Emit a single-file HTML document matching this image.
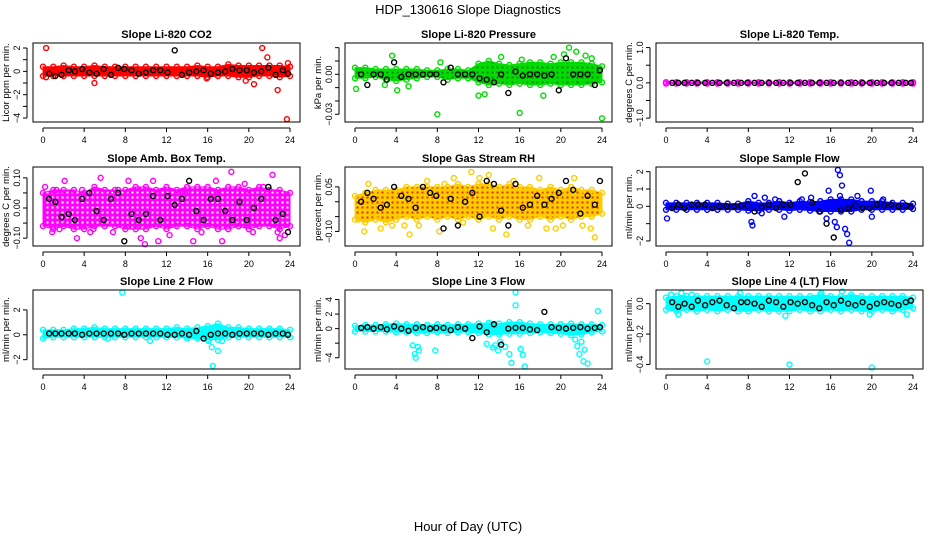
<!DOCTYPE html>
<html><head><meta charset="utf-8"><style>
html,body{margin:0;padding:0;background:#fff;}
svg{display:block;font-family:"Liberation Sans",sans-serif;}
</style></head><body>
<svg id="chart" width="936" height="540" viewBox="0 0 936 540">
<defs id="defs"></defs>
<text x="468" y="14" text-anchor="middle" font-size="13">HDP_130616  Slope Diagnostics</text>
<text x="468" y="531" text-anchor="middle" font-size="13">Hour of Day (UTC)</text>
</svg>
<script>
const xTicks = [0,4,8,12,16,20,24];
const bandHours = [0,1,2,3,4,5,6,7,8,9,10,11,12,13,14,15,16,17,18,19,20,21,22,23,24];
const blackHours = [0.6,1.2,1.8,2.5,3.1,3.8,4.5,5.2,5.9,6.6,7.3,7.9,8.6,9.3,10,10.7,11.4,12.1,12.8,13.5,14.2,14.9,15.6,16.3,17,17.7,18.4,19.1,19.8,20.5,21.2,21.9,22.6,23.3,23.8];

// CO2
const co2Lo = [-0.4,-0.4,-0.4,-0.4,-0.4,-0.4,-0.4,-0.4,-0.4,-0.4,-0.4,-0.4,-0.4,-0.4,-0.4,-0.4,-0.5,-0.4,-0.4,-0.5,-0.5,-0.4,-0.4,-0.5,-0.4];
const co2Hi = [0.4,0.4,0.5,0.4,0.4,0.5,0.4,0.4,0.4,0.4,0.4,0.4,0.4,0.4,0.4,0.5,0.4,0.4,0.6,0.5,0.5,0.5,0.5,0.5,0.4];
const co2OutH = [0.3,0.3,5,15.9,20.5,19.7,21.3,21.8,22.8,23.7,23.8];
const co2OutV = [2,-0.5,-1,-0.6,-1.1,-0.8,2,1.2,-1.6,-4.1,0.7];
const co2Black = [-0.2,-0.4,-0.3,0.1,0,0.2,-0.1,-0.2,0.2,-0.3,0.3,0.2,0.1,-0.2,-0.1,0.1,0.1,-0.1,1.8,-0.3,-0.1,0,0.1,-0.2,-0.1,0,0.2,0.1,0.1,-0.1,0,0.3,-0.3,0.1,-0.2];
// Pressure
const presLo = [-0.003,-0.003,-0.002,-0.004,-0.005,-0.004,-0.003,-0.002,-0.002,-0.004,-0.003,-0.003,-0.006,-0.008,-0.007,-0.008,-0.007,-0.008,-0.008,-0.007,-0.008,-0.008,-0.008,-0.007,-0.006];
const presHi = [0.005,0.005,0.004,0.004,0.004,0.004,0.004,0.003,0.003,0.004,0.004,0.003,0.008,0.01,0.008,0.007,0.008,0.009,0.009,0.008,0.009,0.009,0.009,0.008,0.006];
const presOutH = [0.1,3.6,4.1,8,8.3,12,12.6,16,18.3,20.8,21.5,24,14.2,19.3,20.3,16.2,22.4,23,2.9,5.2];
const presOutV = [-0.011,0.014,-0.012,-0.03,0.009,-0.016,-0.015,-0.029,-0.016,0.02,0.017,-0.033,0.013,0.013,0.015,0.011,0.014,0.012,-0.008,-0.009];
const presBlack = [0,-0.008,0,0,-0.004,0.009,-0.002,0,0,0,0,0,-0.006,0.005,0,0,0,-0.003,-0.004,-0.006,0,-0.014,0.002,-0.001,0,0,-0.001,0,-0.012,0.012,0,0,0,-0.008,0.003];
// Temp
const tempLo = [-0.02,-0.02,-0.02,-0.02,-0.02,-0.02,-0.02,-0.02,-0.02,-0.02,-0.02,-0.02,-0.02,-0.02,-0.02,-0.02,-0.02,-0.02,-0.02,-0.02,-0.02,-0.02,-0.02,-0.02,-0.02];
const tempHi = [0.02,0.02,0.02,0.02,0.02,0.02,0.02,0.02,0.02,0.02,0.02,0.02,0.02,0.02,0.02,0.02,0.02,0.02,0.02,0.02,0.02,0.02,0.02,0.02,0.02];
const tempOutH = [];
const tempOutV = [];
const tempBlack = [0,0,0,0,0,0,0,0,0,0,0,0,0,0,0,0,0,0,0,0,0,0,0,0,0,0,0,0,0,0,0,0,0,0,0];
// Amb box temp
const ambLo = [-0.06,-0.07,-0.06,-0.07,-0.07,-0.06,-0.06,-0.06,-0.07,-0.07,-0.07,-0.06,-0.07,-0.06,-0.06,-0.07,-0.06,-0.07,-0.07,-0.06,-0.07,-0.06,-0.06,-0.07,-0.06];
const ambHi = [0.05,0.06,0.06,0.06,0.05,0.07,0.06,0.06,0.06,0.07,0.07,0.06,0.07,0.06,0.07,0.07,0.07,0.06,0.07,0.07,0.06,0.07,0.06,0.06,0.05];
const ambOutH = [0.2,0.9,1.3,2.1,3.3,3.8,4.6,5.6,6.8,7.3,8.3,9.5,9.9,10.1,10.7,12.3,13.8,14.6,15.4,17.4,18.3,19.6,20.4,21.4,22.3,23,23.5,1.6,4.9,11.2,16.8,22.8];
const ambOutV = [0.07,-0.08,0.06,0.09,-0.1,0.06,-0.08,0.1,-0.08,0.06,0.09,-0.1,-0.12,0.05,0.09,-0.09,0.05,-0.11,-0.08,-0.11,0.12,0.08,-0.08,0.07,0.11,-0.1,-0.09,-0.07,-0.07,-0.11,0.09,-0.08];
const ambBlack = [0.03,0.02,-0.03,-0.02,-0.04,0.03,0.05,-0.01,-0.04,0.03,0.05,-0.11,-0.02,-0.04,-0.02,0.04,-0.04,0.04,0.01,0.03,0.09,-0.01,-0.04,0.03,0.03,-0.01,-0.04,0.02,-0.04,0,0.03,0.07,-0.04,-0.02,-0.08];
// RH
const rhLo = [-0.06,-0.07,-0.06,-0.07,-0.06,-0.05,-0.06,-0.05,-0.06,-0.05,-0.06,-0.05,-0.06,-0.05,-0.06,-0.05,-0.06,-0.06,-0.05,-0.06,-0.05,-0.06,-0.05,-0.05,-0.04];
const rhHi = [0.02,0.03,0.04,0.04,0.04,0.05,0.05,0.05,0.05,0.05,0.06,0.05,0.06,0.06,0.05,0.06,0.05,0.05,0.04,0.05,0.04,0.05,0.04,0.04,0.03];
const rhOutH = [0.9,1.3,2.5,3.6,4.8,5.3,7,8.2,8.7,9.6,10.5,11.3,12.1,13.4,14.7,15.4,16.8,17.9,18.6,20.2,21.3,22.1,22.9,23.3,0.3,6.2,13,19.5];
const rhOutV = [-0.1,0.06,-0.09,-0.08,-0.08,-0.11,0.07,-0.1,0.06,0.08,-0.07,0.1,0.08,-0.09,-0.11,0.07,-0.08,0.08,-0.09,-0.08,0.08,-0.08,-0.09,-0.12,-0.06,-0.08,0.09,-0.09];
const rhBlack = [0,0.03,0.01,-0.02,-0.01,0.05,0.02,0.01,-0.02,0.05,0.03,0.02,-0.09,0.01,-0.08,0,0.03,-0.05,0.07,0.06,-0.03,-0.08,0.06,-0.02,-0.01,0.02,-0.01,0.01,0.03,0.07,0.04,-0.04,0.02,-0.01,0.07];
// Sample flow
const sfLo = [-0.2,-0.2,-0.2,-0.2,-0.2,-0.2,-0.2,-0.2,-0.25,-0.25,-0.2,-0.2,-0.25,-0.2,-0.25,-0.3,-0.3,-0.3,-0.3,-0.2,-0.2,-0.2,-0.2,-0.2,-0.15];
const sfHi = [0.2,0.2,0.2,0.2,0.2,0.2,0.15,0.15,0.3,0.2,0.2,0.3,0.2,0.3,0.25,0.3,0.4,0.4,0.4,0.3,0.3,0.3,0.2,0.2,0.15];
const sfOutH = [0.1,8.3,8.4,8.6,9.3,9.6,10.6,11.5,13.2,14.1,15.6,15.8,16.6,16.7,16.9,17.1,17.6,17.8,18.6,19.9,20,21.1,17.4,16.4,16.9];
const sfOutV = [-0.7,-0.9,-1.1,0.6,-0.4,0.5,0.4,-0.6,0.4,0.5,-0.7,0.9,-1.2,2.1,1.8,1.2,-1.6,-2.1,0.6,0.9,-0.6,0.4,-1.3,-0.9,0.6];
const sfBlack = [-0.1,0.1,-0.1,0.1,0.1,0.1,-0.1,0,0,0,0.05,0.05,-0.3,-0.05,0.1,-0.1,0.1,0.1,1.4,1.9,0.2,-0.3,-1,-1.8,-0.2,-0.1,0.05,-0.1,-0.1,0.1,0.05,0.1,0,0.05,-0.05];
// Line 2
const l2Lo = [-0.3,-0.2,-0.2,-0.2,-0.2,-0.2,-0.2,-0.2,-0.2,-0.2,-0.2,-0.2,-0.2,-0.2,-0.3,-0.3,-0.4,-0.4,-0.2,-0.2,-0.2,-0.2,-0.2,-0.2,-0.2];
const l2Hi = [0.4,0.4,0.4,0.5,0.5,0.6,0.5,0.5,0.5,0.5,0.5,0.5,0.5,0.6,0.5,0.6,0.7,0.9,0.6,0.6,0.5,0.5,0.5,0.5,0.4];
const l2OutH = [7.7,16.5,16.4,17,16.1,10.4,17.4,6.3];
const l2OutV = [3.4,-2.5,-1,-1.3,-0.5,-0.5,-0.5,-0.3];
const l2Black = [0.1,0.1,0.1,0.1,0.1,0,0.1,0.1,0.1,0.1,0.1,0,0.1,0.1,0.1,0.1,0.1,0,0,0.1,0,0.3,-0.3,0,0.1,0.1,0,0.1,0.1,0.1,0.1,0,0.1,0.1,0];
// Line 3
const l3Lo = [-0.4,-0.4,-0.4,-0.4,-0.5,-0.5,-0.6,-0.6,-0.5,-0.6,-0.5,-0.5,-0.6,-0.8,-0.8,-0.7,-0.7,-0.6,-0.5,-0.6,-0.7,-0.9,-0.8,-0.5,-0.4];
const l3Hi = [0.4,0.5,0.5,0.6,0.7,0.6,0.6,0.5,0.6,0.5,0.6,0.6,0.7,0.8,0.7,0.9,0.9,0.7,0.6,0.6,0.6,0.7,0.6,0.6,0.5];
const l3OutH = [5.6,5.8,5.9,6.1,6.2,7.8,12.8,13.4,13.6,14.1,14.6,15,15.2,15.6,16.1,16.3,16.5,21.4,21.6,21.8,22.2,22.3,22.6,23.6,15.6,22,13.9];
const l3OutV = [-2.3,-3.5,-4,-2.5,-3,-3,-2.1,-2.6,-2.3,-1.8,-2.5,-3.5,-4.7,5,-2.8,-3.6,-5.2,-1.5,-2.4,-3.5,-4.5,-2.9,-4.8,2.4,3.2,-1.8,-3];
const l3Black = [0.1,0.2,0,0.2,-0.1,0.3,0,-0.3,0.1,0.2,0,0.1,0.1,-0.2,0.2,0,-1.3,0.3,-0.5,0.6,-2.2,0,0.1,0.1,-0.1,-0.2,2.3,0.2,0.1,0,0.1,0.2,0,0.1,0.2];
// Line 4
const l4Lo = [-0.04,-0.05,-0.04,-0.05,-0.04,-0.05,-0.04,-0.05,-0.05,-0.04,-0.05,-0.05,-0.05,-0.04,-0.05,-0.05,-0.04,-0.05,-0.04,-0.05,-0.05,-0.04,-0.05,-0.04,-0.03];
const l4Hi = [0.04,0.05,0.05,0.05,0.05,0.05,0.05,0.05,0.05,0.05,0.05,0.05,0.05,0.05,0.05,0.06,0.05,0.05,0.06,0.05,0.05,0.05,0.05,0.05,0.04];
const l4OutH = [4,12,20,0.5,1.2,2.5,7.2,11.6,15.1,19.8,23.4,1.5,17.1];
const l4OutV = [-0.38,-0.4,-0.42,0.06,-0.07,0.06,0.07,-0.08,0.07,-0.07,-0.07,0.07,0.08];
const l4Black = [0.01,-0.02,0,-0.02,0.02,-0.01,0.01,0.02,-0.01,-0.03,0.01,0.01,0,-0.02,0.02,0.01,-0.02,0.01,0,0.01,-0.01,-0.03,0.01,-0.01,0.02,0,-0.01,0.01,-0.02,0,0.01,0,-0.01,0.01,0.02];

const co2Ticks=[2,1,0,-1,-2,-3,-4], co2Labels=["2","","0","","-2","","-4"];
const presTicks=[0.02,0.01,0,-0.01,-0.02,-0.03], presLabels=["","","0.00","","","-0.03"];
const tempTicks=[1,0.5,0,-0.5,-1], tempLabels=["1.0","","0.0","","-1.0"];
const ambTicks=[0.1,0.05,0,-0.05,-0.1], ambLabels=["0.10","","0.00","","-0.10"];
const rhTicks=[0.05,0,-0.05,-0.1], rhLabels=["0.05","","","-0.10"];
const sfTicks=[2,1,0,-1,-2], sfLabels=["2","1","0","","-2"];
const l2Ticks=[2,0,-2], l2Labels=["2","0","-2"];
const l3Ticks=[4,2,0,-2,-4], l3Labels=["4","2","0","","-4"];
const l4Ticks=[0,-0.2,-0.4], l4Labels=["0.0","-0.2","-0.4"];

const NS="http://www.w3.org/2000/svg";
const svg=document.getElementById('chart');
const defs=document.getElementById('defs');
function mk(tag,attrs,parent){const e=document.createElementNS(NS,tag);for(const k in attrs)e.setAttribute(k,attrs[k]);parent.appendChild(e);return e;}

const cols=[33,345,656], rows=[43,167,290], W=267, H=79;
const panels=[
 {name:'co2',title:'Slope Li-820 CO2',yl:'Licor ppm per min.',col:'#ff0000',tex:false,ymin:-4.34,ymax:2.43,lo:co2Lo,hi:co2Hi,oh:co2OutH,ov:co2OutV,bk:co2Black,t:co2Ticks,tl:co2Labels},
 {name:'pressure',title:'Slope Li-820 Pressure',yl:'kPa per min.',col:'#00dd00',tex:true,inner:'#1a7a1a',ymin:-0.0358,ymax:0.0235,lo:presLo,hi:presHi,oh:presOutH,ov:presOutV,bk:presBlack,t:presTicks,tl:presLabels},
 {name:'temp',title:'Slope Li-820 Temp.',yl:'degrees C per min.',col:'#ff00ff',tex:false,ymin:-1.11,ymax:1.13,lo:tempLo,hi:tempHi,oh:tempOutH,ov:tempOutV,bk:tempBlack,t:tempTicks,tl:tempLabels},
 {name:'amb-box-temp',title:'Slope Amb. Box Temp.',yl:'degrees C per min.',col:'#ff00ff',tex:true,inner:'#ffffff',ymin:-0.126,ymax:0.136,lo:ambLo,hi:ambHi,oh:ambOutH,ov:ambOutV,bk:ambBlack,t:ambTicks,tl:ambLabels},
 {name:'gas-rh',title:'Slope Gas Stream RH',yl:'percent per min.',col:'#ffcc00',tex:true,inner:'#e03000',ymin:-0.149,ymax:0.117,lo:rhLo,hi:rhHi,oh:rhOutH,ov:rhOutV,bk:rhBlack,t:rhTicks,tl:rhLabels},
 {name:'sample-flow',title:'Slope Sample Flow',yl:'ml/min per min.',col:'#0000ff',tex:false,ymin:-2.29,ymax:2.27,lo:sfLo,hi:sfHi,oh:sfOutH,ov:sfOutV,bk:sfBlack,t:sfTicks,tl:sfLabels},
 {name:'line2-flow',title:'Slope Line 2 Flow',yl:'ml/min per min.',col:'#00ffff',tex:false,ymin:-2.75,ymax:3.6,lo:l2Lo,hi:l2Hi,oh:l2OutH,ov:l2OutV,bk:l2Black,t:l2Ticks,tl:l2Labels},
 {name:'line3-flow',title:'Slope Line 3 Flow',yl:'ml/min per min.',col:'#00ffff',tex:false,ymin:-5.55,ymax:5.31,lo:l3Lo,hi:l3Hi,oh:l3OutH,ov:l3OutV,bk:l3Black,t:l3Ticks,tl:l3Labels},
 {name:'line4-flow',title:'Slope Line 4 (LT) Flow',yl:'ml/min per min.',col:'#00ffff',tex:false,ymin:-0.43,ymax:0.09,lo:l4Lo,hi:l4Hi,oh:l4OutH,ov:l4OutV,bk:l4Black,t:l4Ticks,tl:l4Labels}
];

panels.forEach((p,i)=>{
  const L=cols[i%3], T=rows[Math.floor(i/3)];
  const xs=h=>L+10+h*(W-20)/24;
  const ys=v=>T+(p.ymax-v)/(p.ymax-p.ymin)*H;
  let fill=p.col;
  if(p.tex){
    const pat=mk('pattern',{id:'pat'+i,width:5,height:5,patternUnits:'userSpaceOnUse'},defs);
    mk('rect',{x:0,y:0,width:5,height:5,fill:p.col},pat);
    mk('rect',{x:1.5,y:1.5,width:2,height:2,fill:p.inner},pat);
    fill='url(#pat'+i+')';
  }
  const g=mk('g',{},svg);
  
  
  const tt=mk('text',{x:L+W/2,y:T-5,'text-anchor':'middle','font-size':'11','font-weight':'bold'},g);
  tt.textContent=p.title;
  
  
  let pts=p.lo.map((v,k)=>xs(bandHours[k])+','+ys(v));
  for(let k=p.hi.length-1;k>=0;k--)pts.push(xs(bandHours[k])+','+ys(p.hi[k]));
  const band=mk('polygon',{points:pts.join(' '),fill:fill,stroke:p.col,'stroke-width':'1'},g);
  
  
  bandHours.forEach((h,k)=>{
    [p.lo[k],p.hi[k]].forEach(v=>{
      const c=mk('circle',{cx:xs(h),cy:ys(v),r:2.5,fill:'none',stroke:p.col,'stroke-width':'1.4'},g);
      
      
    });
  });
  p.oh.forEach((h,k)=>{
    const c=mk('circle',{cx:xs(h),cy:ys(p.ov[k]),r:2.5,fill:'none',stroke:p.col,'stroke-width':'1.4'},g);
    
    
  });
  p.bk.forEach((v,k)=>{
    const c=mk('circle',{cx:xs(blackHours[k]),cy:ys(v),r:2.5,fill:'none',stroke:'#000','stroke-width':'1.4'},g);
    
    
  });
  const box=mk('rect',{x:L,y:T,width:W,height:H,fill:'none',stroke:'#000','stroke-width':'1'},g);
  
  
  mk('line',{x1:xs(0),x2:xs(24),y1:T+H+6,y2:T+H+6,stroke:'#000'},g);
  xTicks.forEach(h=>{
    mk('line',{x1:xs(h),x2:xs(h),y1:T+H+6,y2:T+H+10,stroke:'#000'},g);
    const tx=mk('text',{x:xs(h),y:T+H+21,'text-anchor':'middle','font-size':'9'},g);
    tx.textContent=String(h);
    
    
  });
  mk('line',{x1:L-6,x2:L-6,y1:ys(p.t[0]),y2:ys(p.t[p.t.length-1]),stroke:'#000'},g);
  p.t.forEach((v,k)=>{
    mk('line',{x1:L-10,x2:L-6,y1:ys(v),y2:ys(v),stroke:'#000'},g);
    if(p.tl[k]){
      const tx=mk('text',{x:L-13,y:ys(v),'text-anchor':'middle','font-size':'9',transform:`rotate(-90 ${L-13} ${ys(v)})`},g);
      tx.textContent=p.tl[k].replace('-','\u2212');
      
      
    }
  });
  const yl=mk('text',{x:L-24,y:T+H/2,'text-anchor':'middle','font-size':'9.5',transform:`rotate(-90 ${L-24} ${T+H/2})`},g);
  yl.textContent=p.yl;
  
  
});
</script>
</body></html>
